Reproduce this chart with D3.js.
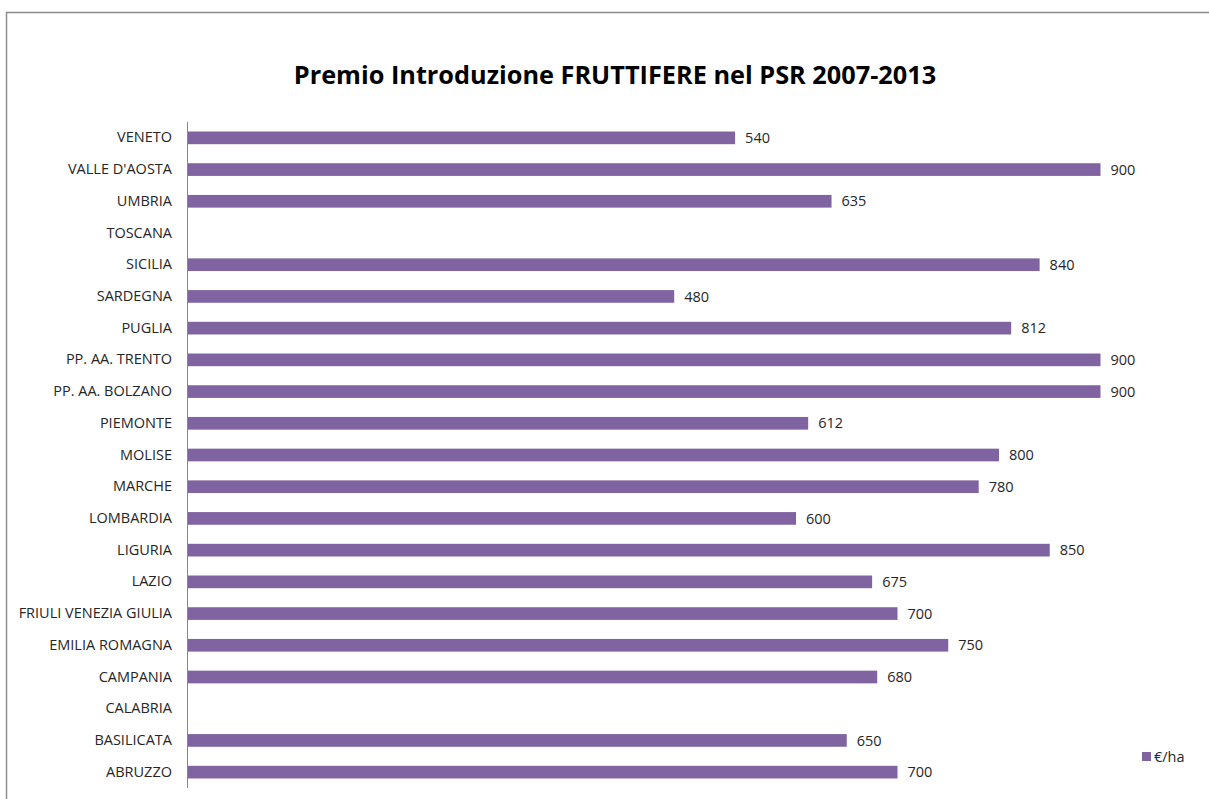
<!DOCTYPE html>
<html><head><meta charset="utf-8">
<script src="https://cdn.jsdelivr.net/npm/d3@7"></script>
<style>body{margin:0;background:#fff}svg{display:block}</style>
</head><body>
<svg id="c" width="1209" height="799"></svg>
<script>
const categories = ["VENETO","VALLE D'AOSTA","UMBRIA","TOSCANA","SICILIA","SARDEGNA","PUGLIA","PP. AA. TRENTO","PP. AA. BOLZANO","PIEMONTE","MOLISE","MARCHE","LOMBARDIA","LIGURIA","LAZIO","FRIULI VENEZIA GIULIA","EMILIA ROMAGNA","CAMPANIA","CALABRIA","BASILICATA","ABRUZZO"];
const values = [540,900,635,null,840,480,812,900,900,612,800,780,600,850,675,700,750,680,null,650,700];
const seriesName = "€/ha";
const title = "Premio Introduzione FRUTTIFERE nel PSR 2007-2013";

const svg = d3.select("#c");
const font = "'Open Sans', 'Noto Sans', sans-serif";
const purple = "#8064A2";
const fs = 14.5;

// chart border
svg.append("path").attr("d","M6.5,799 V12.5 H1209").attr("fill","none").attr("stroke","#8c8c8c").attr("stroke-width",1.5);

svg.append("text").attr("x",615).attr("y",84).attr("text-anchor","middle")
  .attr("font-family",font).attr("font-weight","bold").attr("font-size",25.3).attr("fill","#000").text(title);

const x = d3.scaleLinear().domain([0,1000]).range([187,1202]);
const y = d3.scaleBand().domain(categories).range([122,788]).paddingInner(0.6).paddingOuter(0.3);

const data = categories.map((c,i)=>({c, v: values[i]}));

svg.selectAll("rect.bar").data(data.filter(d=>d.v!=null)).join("rect").attr("class","bar")
  .attr("x",x(0)).attr("y",d=>y(d.c)).attr("width",d=>x(d.v)-x(0)).attr("height",y.bandwidth()).attr("fill",purple);

svg.selectAll("text.val").data(data.filter(d=>d.v!=null)).join("text").attr("class","val")
  .attr("x",d=>x(d.v)+10).attr("y",d=>y(d.c)+y.bandwidth()/2).attr("dy","0.35em")
  .attr("font-family",font).attr("font-size",fs).attr("fill","#262626").text(d=>d.v);

const yAxis = svg.append("g").attr("transform",`translate(${x(0)},0)`).call(d3.axisLeft(y).tickSize(0).tickPadding(15));
yAxis.select(".domain").attr("stroke","#888").attr("d",`M0.5,122V788`);
yAxis.selectAll("text").attr("font-family",font).attr("font-size",fs).attr("fill","#262626");

// legend
svg.append("rect").attr("x",1142).attr("y",752).attr("width",9).attr("height",9).attr("fill",purple);
svg.append("text").attr("x",1154).attr("y",757).attr("dy","0.35em").attr("font-family",font).attr("font-size",fs).attr("fill","#262626").text(seriesName);
</script>
</body></html>
